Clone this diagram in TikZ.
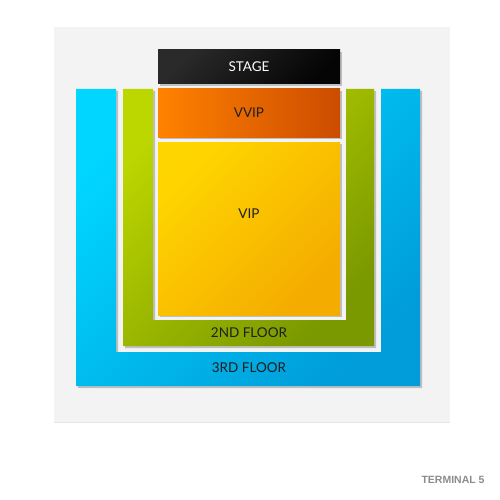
\documentclass[tikz,border=0pt]{standalone}
\usepackage{fontspec}
\setmainfont{Lato}
\newfontfamily\arialfont{Liberation Sans}
\usetikzlibrary{shadows}
\definecolor{panelgray}{HTML}{F3F3F3}
\definecolor{stagetop}{HTML}{2A2A2A}
\definecolor{stagebot}{HTML}{050505}
\definecolor{vvipleft}{HTML}{FF8200}
\definecolor{vvipright}{HTML}{CC4C00}
\definecolor{viptop}{HTML}{FFD500}
\definecolor{vipbot}{HTML}{F4AC00}
\definecolor{greentop}{HTML}{BCD600}
\definecolor{greenbot}{HTML}{7A9800}
\definecolor{bluetop}{HTML}{00D6FF}
\definecolor{bluebot}{HTML}{009DDA}
\tikzset{shade/.style={drop shadow={shadow xshift=2pt, shadow yshift=-2pt, opacity=0.45}}}
\tikzset{section/.style={shade, inner sep=0pt, font=\fontsize{13.5}{15}\selectfont, text=black!88}}
\tikzset{stagebox/.style={section, text=white, top color=stagetop, bottom color=stagebot, shading angle=45, minimum width=182pt, minimum height=34pt}}
\tikzset{vvipbox/.style={section, left color=vvipleft, right color=vvipright, minimum width=182pt, minimum height=48pt}}
\tikzset{vipbox/.style={section, top color=viptop, bottom color=vipbot, shading angle=45, minimum width=182pt, minimum height=173pt}}
\tikzset{floor2/.style={shade, top color=greentop, bottom color=greenbot, shading angle=45}}
\tikzset{floor3/.style={shade, top color=bluetop, bottom color=bluebot, shading angle=45}}
\tikzset{label/.style={font=\fontsize{13.5}{15}\selectfont, text=black!88}}

\begin{document}
\begin{tikzpicture}[x=1pt, y=-1pt]
\useasboundingbox[fill=white] (0,0) rectangle (500,500);
% panel
\fill[panelgray, drop shadow={shadow xshift=0pt, shadow yshift=-1pt, opacity=0.2}] (54,27) rectangle (450,422);
% floors
\path[floor3] (76,89) -- (116,89) -- (116,352) -- (381,352) -- (381,89) -- (420,89) -- (420,386) -- (76,386) -- cycle;
\path[floor2] (123,89) -- (153,89) -- (153,320) -- (346,320) -- (346,89) -- (374,89) -- (374,346) -- (123,346) -- cycle;
\node[label] (third) at (249,368) {3RD FLOOR};
\node[label] (second) at (249,333) {2ND FLOOR};
% blocks
\node[stagebox] (stage) at (249,67) {STAGE};
\node[vvipbox] (vvip) at (249,113) {VVIP};
\node[vipbox] (vip) at (249,228.5) {\raisebox{30pt}{VIP}};
\node[font=\arialfont\bfseries\fontsize{10.5}{12}\selectfont, text=black!45] (venue) at (453,480) {TERMINAL 5};
\end{tikzpicture}
\end{document}
